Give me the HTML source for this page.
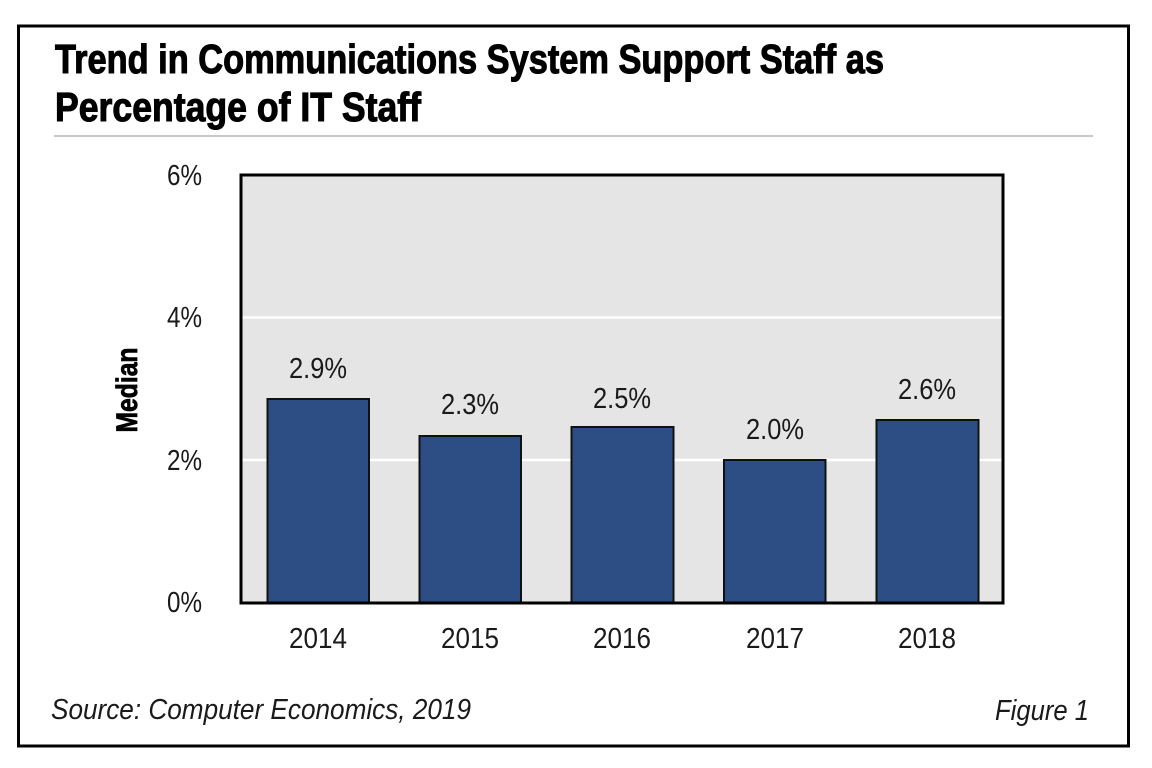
<!DOCTYPE html>
<html>
<head>
<meta charset="utf-8">
<style>
  html, body { margin: 0; padding: 0; background: #ffffff; }
  svg { display: block; }
</style>
</head>
<body>
<svg width="1152" height="768" viewBox="0 0 1152 768" xmlns="http://www.w3.org/2000/svg" font-family="'Liberation Sans', Arial, sans-serif">
  <rect x="0" y="0" width="1152" height="768" fill="#ffffff"/>
  <!-- outer frame -->
  <rect x="18.5" y="26" width="1110" height="720" fill="none" stroke="#000" stroke-width="3"/>

  <!-- title -->
  <text x="55" y="73" font-size="41" font-weight="bold" fill="#000" stroke="#000" stroke-width="1.1" textLength="829" lengthAdjust="spacingAndGlyphs">Trend in Communications System Support Staff as</text>
  <text x="55" y="121" font-size="41" font-weight="bold" fill="#000" stroke="#000" stroke-width="1.1" textLength="366" lengthAdjust="spacingAndGlyphs">Percentage of IT Staff</text>
  <line x1="54" y1="136" x2="1093" y2="136" stroke="#c8c8c8" stroke-width="2"/>

  <!-- plot area -->
  <rect x="241" y="175" width="762" height="428" fill="#e5e5e5"/>
  <line x1="241" y1="317.5" x2="1003" y2="317.5" stroke="#ffffff" stroke-width="2.5"/>
  <line x1="241" y1="460" x2="1003" y2="460" stroke="#ffffff" stroke-width="2.5"/>

  <!-- bars -->
  <g fill="#2c4e84" stroke="#111" stroke-width="2">
    <rect x="267.5" y="399" width="101.5" height="204"/>
    <rect x="419.5" y="436" width="101.5" height="167"/>
    <rect x="571.5" y="427" width="102" height="176"/>
    <rect x="724" y="460" width="101.5" height="143"/>
    <rect x="876.5" y="420" width="102" height="183"/>
  </g>

  <!-- plot frame -->
  <rect x="241" y="175" width="762" height="428" fill="none" stroke="#000" stroke-width="3"/>

  <!-- value labels -->
  <g font-size="29" fill="#1a1a1a" text-anchor="middle">
    <text x="318" y="378" textLength="58" lengthAdjust="spacingAndGlyphs">2.9%</text>
    <text x="470" y="414" textLength="58" lengthAdjust="spacingAndGlyphs">2.3%</text>
    <text x="622" y="408" textLength="58" lengthAdjust="spacingAndGlyphs">2.5%</text>
    <text x="775" y="439" textLength="58" lengthAdjust="spacingAndGlyphs">2.0%</text>
    <text x="927" y="399" textLength="58" lengthAdjust="spacingAndGlyphs">2.6%</text>
  </g>

  <!-- y tick labels -->
  <g font-size="29" fill="#1a1a1a" text-anchor="end">
    <text x="202" y="185" textLength="35" lengthAdjust="spacingAndGlyphs">6%</text>
    <text x="202" y="327" textLength="35" lengthAdjust="spacingAndGlyphs">4%</text>
    <text x="202" y="470" textLength="35" lengthAdjust="spacingAndGlyphs">2%</text>
    <text x="202" y="612" textLength="35" lengthAdjust="spacingAndGlyphs">0%</text>
  </g>

  <!-- x labels -->
  <g font-size="29" fill="#1a1a1a" text-anchor="middle">
    <text x="318" y="648" textLength="58" lengthAdjust="spacingAndGlyphs">2014</text>
    <text x="470" y="648" textLength="58" lengthAdjust="spacingAndGlyphs">2015</text>
    <text x="622" y="648" textLength="58" lengthAdjust="spacingAndGlyphs">2016</text>
    <text x="775" y="648" textLength="58" lengthAdjust="spacingAndGlyphs">2017</text>
    <text x="927" y="648" textLength="58" lengthAdjust="spacingAndGlyphs">2018</text>
  </g>

  <!-- y axis title -->
  <text x="137" y="390" font-size="30" font-weight="bold" fill="#000" stroke="#000" stroke-width="0.8" text-anchor="middle" transform="rotate(-90 137 390)" textLength="85" lengthAdjust="spacingAndGlyphs">Median</text>

  <!-- footer -->
  <text x="51" y="719" font-size="29" font-style="italic" fill="#1a1a1a" textLength="420" lengthAdjust="spacingAndGlyphs">Source: Computer Economics, 2019</text>
  <text x="995" y="720" font-size="29" font-style="italic" fill="#1a1a1a" textLength="94" lengthAdjust="spacingAndGlyphs">Figure 1</text>
</svg>
</body>
</html>
